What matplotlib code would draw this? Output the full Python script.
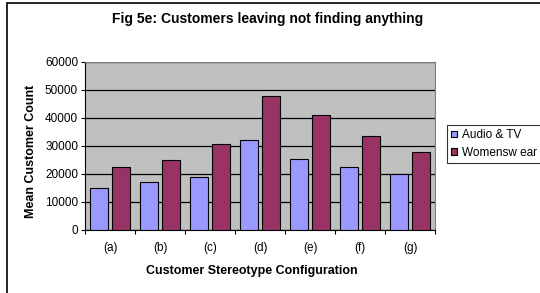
import numpy as np
import matplotlib.pyplot as plt
from matplotlib.patches import Rectangle

plt.rcParams['font.family'] = ['Liberation Sans', 'DejaVu Sans']

categories = ['(a)', '(b)', '(c)', '(d)', '(e)', '(f)', '(g)']
audio_tv = [15000, 17000, 18900, 32200, 25400, 22500, 20100]
womenswear = [22500, 24900, 30800, 48000, 41200, 33700, 27800]
y_ticks = [0, 10000, 20000, 30000, 40000, 50000, 60000]

fig = plt.figure(figsize=(5.4, 2.93), dpi=100)
W, H = 540, 293
ax = fig.add_axes([85 / W, 1 - 230 / H, (435 - 85) / W, (230 - 62) / H])

# frame around the whole chart (cut off at right/bottom)
fig.patches.append(Rectangle((7 / W, -0.1), 1.2, 1 - 3 / H + 0.1, transform=fig.transFigure,
                             fill=False, edgecolor='black', linewidth=1.2))

x = np.arange(len(categories))
w = 0.36
ax.set_facecolor('#C0C0C0')
ax.bar(x - 0.22, audio_tv, w, color='#9999FF', edgecolor='black', linewidth=0.8,
       label='Audio & TV', zorder=3)
ax.bar(x + 0.22, womenswear, w, color='#993366', edgecolor='black', linewidth=0.8,
       label='Womensw ear', zorder=3)

ax.set_xlim(-0.5, len(categories) - 0.5)
ax.set_ylim(0, 60000)
ax.set_yticks(y_ticks)
ax.set_yticklabels([str(v) for v in y_ticks], fontsize=8.5)
ax.yaxis.grid(True, color='black', linewidth=0.9, zorder=1)
ax.set_axisbelow(True)

ax.set_xticks(x)
ax.set_xticklabels(categories, fontsize=8.5)
ax.tick_params(axis='x', length=0, pad=9)
ax.set_xticks(np.arange(len(categories) + 1) - 0.5, minor=True)
ax.tick_params(axis='x', which='minor', length=3, width=0.8)
ax.tick_params(axis='y', length=3, width=0.8, pad=2)

for s in ['top', 'right']:
    ax.spines[s].set_color('#808080')
ax.spines['left'].set_color('black')
ax.spines['bottom'].set_color('black')

fig.text(31 / W, 1 - 151 / H, 'Mean Customer Count', rotation=90, ha='center', va='center',
         fontsize=9, fontweight='bold')
fig.text(252 / W, 1 - 271 / H, 'Customer Stereotype Configuration', ha='center', va='center',
         fontsize=9, fontweight='bold')
fig.text(268 / W, 1 - 19 / H, 'Fig 5e: Customers leaving not finding anything',
         ha='center', va='center', fontsize=10, fontweight='bold')

leg = ax.legend(loc='upper left', bbox_to_anchor=(447 / W, 1 - 125 / H),
                bbox_transform=fig.transFigure, fontsize=8.5, frameon=True,
                fancybox=False, edgecolor='black', handlelength=0.5, handleheight=0.5,
                handletextpad=0.45, borderpad=0.35, labelspacing=0.5, borderaxespad=0)
leg.get_frame().set_linewidth(0.8)

fig.savefig('out.png', dpi=100)
